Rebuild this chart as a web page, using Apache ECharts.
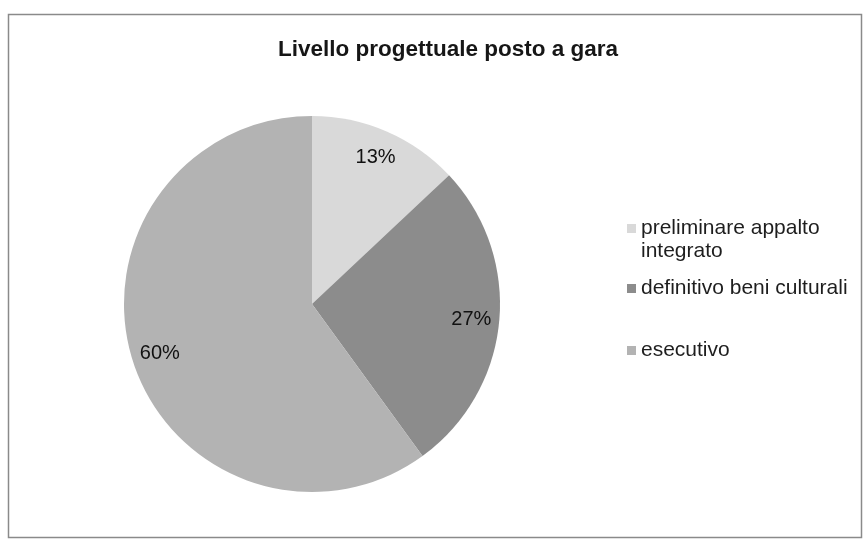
<!DOCTYPE html>
<html>
<head>
<meta charset="utf-8">
<script src="https://cdn.jsdelivr.net/npm/echarts@6/dist/echarts.min.js"></script>
<style>
html,body{margin:0;padding:0;background:#fff;}
#c{width:864px;height:542px;}
</style>
</head>
<body>
<div id="c"></div>
<script>
const titleText = 'Livello progettuale posto a gara';
const categories = ['preliminare appalto integrato', 'definitivo beni culturali', 'esecutivo'];
const values = [13, 27, 60];
const sliceColors = ['#d9d9d9', '#8c8c8c', '#b3b3b3'];

const chart = echarts.init(document.getElementById('c'), null, {renderer: 'canvas'});
const font = 'Liberation Sans, Arial, sans-serif';
const data = categories.map((n, i) => ({name: n, value: values[i], itemStyle: {color: sliceColors[i]}}));

function legendFor(i, top) {
  return {
    data: [categories[i]],
    orient: 'vertical',
    left: 627,
    top: top,
    padding: 0,
    itemWidth: 9,
    itemHeight: 9,
    itemGap: 0,
    icon: 'rect',
    formatter: i === 0 ? function () { return '\npreliminare appalto\nintegrato'; } : undefined,
    textStyle: {fontFamily: font, fontSize: 21, color: '#1e1e1e', lineHeight: 23, padding: [0, 0, 0, 0]}
  };
}

chart.setOption({
  backgroundColor: '#ffffff',
  animation: false,
  title: {
    text: titleText,
    left: 443,
    textAlign: 'center',
    top: 33,
    textStyle: {fontFamily: font, fontSize: 22.5, fontWeight: 'bold', color: '#161616'}
  },
  legend: [legendFor(0, 194), legendFor(1, 277), legendFor(2, 339)],
  graphic: [{
    type: 'rect',
    shape: {x: 8.5, y: 14.5, width: 853, height: 523},
    style: {fill: 'none', stroke: '#8a8a8a', lineWidth: 1.5},
    silent: true, z: -1
  }],
  series: [{
    type: 'pie',
    center: [312, 304],
    radius: [0, 188],
    startAngle: 90,
    clockwise: true,
    silent: true,
    label: {show: false},
    labelLine: {show: false},
    data: data
  }, {
    type: 'pie',
    center: [312, 304],
    radius: [126, 188],
    startAngle: 90,
    clockwise: true,
    silent: true,
    legendHoverLink: false,
    itemStyle: {color: 'rgba(0,0,0,0)', borderWidth: 0},
    label: {
      show: true,
      position: 'inside',
      formatter: function (p) { return p.value + '%'; },
      fontFamily: font, fontSize: 20, color: '#111'
    },
    labelLine: {show: false},
    data: categories.map((n, i) => ({name: n + ' ', value: values[i]}))
  }]
});
</script>
</body>
</html>
